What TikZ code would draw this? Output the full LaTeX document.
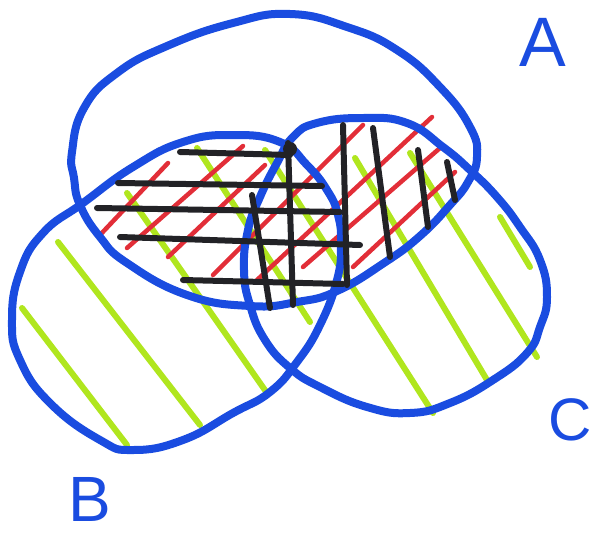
\documentclass[tikz,border=0pt]{standalone}
\usepackage{fontspec}
\setmainfont{Liberation Sans}
\definecolor{penblue}{RGB}{26,76,224}
\definecolor{pengreen}{RGB}{176,230,30}
\definecolor{penred}{RGB}{226,46,56}
\definecolor{penblack}{RGB}{34,34,38}
\begin{document}
\begin{tikzpicture}[x=1pt,y=-1pt, line cap=round, line join=round,
  blueline/.style={draw=penblue, line width=8pt},
  greenline/.style={draw=pengreen, line width=6pt},
  redline/.style={draw=penred, line width=4.5pt},
  blackline/.style={draw=penblack, line width=6pt},
  lbl/.style={text=penblue, inner sep=0pt, font=\fontsize{70}{70}\selectfont}]
\useasboundingbox (0,0) rectangle (597,533);
% green hatching (B and C)
\draw[greenline] (22,308) -- (127,445);
\draw[greenline] (58,242) -- (200,425);
\draw[greenline] (127,193) -- (267,393);
\draw[greenline] (197,148) -- (310,322);
\draw[greenline] (265,150) -- (433,413);
\draw[greenline] (355,158) -- (487,380);
\draw[greenline] (410,153) -- (537,357);
\draw[greenline] (500,217) -- (530,267);
% red hatching (A and (B or C))
\draw[redline] (100,235) -- (168,163);
\draw[redline] (127,248) -- (243,146);
\draw[redline] (168,257) -- (265,165);
\draw[redline] (213,275) -- (363,125);
\draw[redline] (257,280) -- (432,117);
\draw[redline] (303,267) -- (440,148);
\draw[redline] (353,267) -- (455,172);
% the three sets
\draw[blueline] plot[smooth cycle, tension=0.8] coordinates {
  (72,152) (84,108) (117,73) (167,46) (233,23) (290,14) (347,27) (397,50)
  (440,87) (470,127) (477,157) (468,182) (450,205) (420,236) (384,263)
  (337,291) (297,302) (250,306) (187,295) (127,263) (100,237) (80,205) (74,178)};
\draw[blueline] plot[smooth cycle, tension=0.8] coordinates {
  (183,142) (233,135) (280,142) (307,165) (327,190) (338,215) (341,245)
  (337,280) (320,325) (297,362) (270,392) (233,413) (183,440) (133,450)
  (100,440) (50,403) (20,360) (12,320) (20,272) (43,233) (83,203) (133,167)};
\draw[blueline] plot[smooth cycle, tension=0.8] coordinates {
  (293,137) (317,123) (363,118) (407,123) (443,147) (470,170) (497,197)
  (520,227) (540,260) (547,297) (540,327) (527,353) (493,380) (450,403)
  (410,413) (367,407) (320,387) (290,368) (265,340) (250,305) (244,270)
  (248,230) (260,197) (277,163)};
% black hatching
\draw[blackline] (180,152) -- (290,155);
\draw[blackline] (118,183) -- (322,186);
\draw[blackline] (97,208) -- (340,212);
\draw[blackline] (120,237) -- (360,245);
\draw[blackline] (183,280) -- (343,284);
\draw[blackline] (288,143) -- (293,305);
\draw[blackline] (252,195) -- (270,308);
\draw[blackline] (343,125) -- (347,285);
\draw[blackline] (373,128) -- (390,257);
\draw[blackline] (418,150) -- (428,227);
\draw[blackline] (447,162) -- (455,200);
\fill[penblack] (290,149) circle (7pt);
% labels
\node[lbl] (labA) at (543,42) {A};
\node[lbl, font=\fontsize{64}{64}\selectfont] (labB) at (90,499) {B};
\node[lbl, font=\fontsize{60}{60}\selectfont] (labC) at (570,420) {C};
\end{tikzpicture}
\end{document}
